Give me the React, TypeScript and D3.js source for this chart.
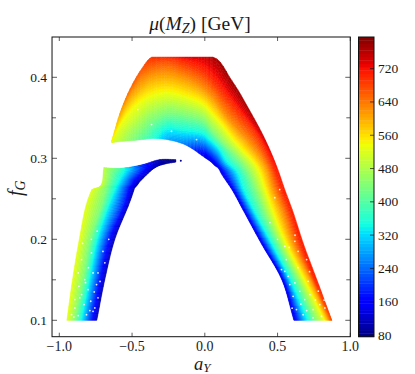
import React, { useMemo } from "react";
import * as d3 from "d3";

// each rib runs across the sheet, inner edge to outer edge
const archAY = [
  [-0.639, -0.639, -0.639, -0.639, -0.639, -0.639, -0.639],
  [-0.584, -0.584, -0.584, -0.584, -0.584, -0.584, -0.584],
  [-0.495, -0.495, -0.495, -0.495, -0.495, -0.495, -0.495],
  [-0.433, -0.433, -0.433, -0.433, -0.433, -0.433, -0.433],
  [-0.364, -0.364, -0.364, -0.364, -0.364, -0.364, -0.364],
  [-0.261, -0.261, -0.261, -0.261, -0.261, -0.261, -0.261],
  [-0.137, -0.137, -0.137, -0.137, -0.137, -0.137, -0.137],
  [0, 0, 0, 0, 0, 0, 0],
  [0.021, 0.021, 0.034, 0.055, 0.062, 0.055, 0.055],
  [0.048, 0.048, 0.082, 0.131, 0.151, 0.131, 0.186],
  [0.069, 0.096, 0.144, 0.199, 0.227, 0.241, 0.309],
  [0.089, 0.144, 0.206, 0.247, 0.309, 0.344, 0.405],
  [0.117, 0.213, 0.289, 0.364, 0.426, 0.474, 0.495],
  [0.186, 0.261, 0.351, 0.419, 0.474, 0.529, 0.55],
  [0.261, 0.33, 0.405, 0.467, 0.529, 0.584, 0.601],
  [0.392, 0.46, 0.515, 0.564, 0.612, 0.66, 0.68],
  [0.529, 0.584, 0.639, 0.687, 0.729, 0.756, 0.77],
  [0.612, 0.687, 0.756, 0.825, 0.852, 0.869, 0.873],
];
const archFG = [
  [0.3194, 0.3197, 0.32, 0.3203, 0.3206, 0.3209, 0.3212],
  [0.3206, 0.328, 0.3354, 0.3416, 0.347, 0.351, 0.3552],
  [0.3219, 0.3354, 0.349, 0.3626, 0.3756, 0.3845, 0.3922],
  [0.3231, 0.3354, 0.354, 0.3721, 0.3863, 0.3962, 0.4107],
  [0.3243, 0.3354, 0.3478, 0.3786, 0.4033, 0.4144, 0.425],
  [0.3231, 0.333, 0.3564, 0.3824, 0.4058, 0.4195, 0.425],
  [0.3169, 0.3317, 0.354, 0.3774, 0.3996, 0.4195, 0.425],
  [0.3009, 0.3268, 0.3453, 0.3663, 0.3848, 0.407, 0.425],
  [0.2984, 0.3231, 0.3379, 0.3552, 0.3738, 0.3972, 0.425],
  [0.2947, 0.3194, 0.328, 0.3392, 0.3515, 0.3811, 0.3959],
  [0.291, 0.3107, 0.3157, 0.3231, 0.3354, 0.3564, 0.3589],
  [0.2885, 0.296, 0.3046, 0.3132, 0.3194, 0.3342, 0.3268],
  [0.2799, 0.2836, 0.286, 0.2885, 0.2885, 0.2885, 0.2897],
  [0.2614, 0.2614, 0.2614, 0.2614, 0.2614, 0.2614, 0.2614],
  [0.2367, 0.2367, 0.2367, 0.2367, 0.2367, 0.2367, 0.2367],
  [0.1935, 0.1935, 0.1935, 0.1935, 0.1935, 0.1935, 0.1935],
  [0.1503, 0.1503, 0.1503, 0.1503, 0.1503, 0.1503, 0.1503],
  [0.1, 0.1, 0.1, 0.1, 0.1, 0.1, 0.1],
];
const archMu = [
  [515, 520, 525, 530, 535, 538, 540],
  [490, 505, 520, 540, 565, 585, 600],
  [440, 470, 510, 540, 590, 620, 660],
  [405, 440, 490, 540, 590, 620, 670],
  [370, 400, 440, 540, 620, 660, 695],
  [290, 330, 440, 540, 620, 670, 700],
  [250, 330, 440, 540, 620, 700, 730],
  [130, 330, 440, 540, 620, 700, 745],
  [130, 330, 440, 540, 620, 700, 765],
  [130, 330, 440, 540, 620, 700, 780],
  [130, 330, 440, 540, 620, 700, 770],
  [130, 330, 440, 540, 620, 700, 750],
  [130, 330, 440, 540, 620, 700, 720],
  [130, 330, 440, 540, 620, 700, 710],
  [130, 330, 440, 540, 620, 700, 710],
  [130, 330, 440, 540, 620, 700, 710],
  [130, 330, 440, 540, 620, 700, 710],
  [130, 300, 430, 540, 610, 660, 680],
];

const armAY = [
  [-0.742, -0.784, -0.845, -0.9, -0.948],
  [-0.687, -0.729, -0.79, -0.838, -0.909],
  [-0.619, -0.667, -0.735, -0.79, -0.863],
  [-0.509, -0.55, -0.639, -0.701, -0.804],
  [-0.481, -0.529, -0.605, -0.68, -0.777],
  [-0.467, -0.515, -0.598, -0.667, -0.722],
  [-0.447, -0.495, -0.57, -0.639, -0.694],
  [-0.412, -0.46, -0.536, -0.584, -0.612],
  [-0.33, -0.357, -0.385, -0.405, -0.426],
  [-0.261, -0.275, -0.289, -0.302, -0.309],
  [-0.199, -0.199, -0.199, -0.199, -0.199],
];
const armFG = [
  [0.1, 0.1, 0.1, 0.1, 0.1],
  [0.1503, 0.1503, 0.1503, 0.1503, 0.1503],
  [0.1996, 0.1996, 0.1996, 0.1996, 0.1996],
  [0.249, 0.249, 0.249, 0.249, 0.249],
  [0.2638, 0.2638, 0.2638, 0.2638, 0.2614],
  [0.2663, 0.2663, 0.2663, 0.2663, 0.2651],
  [0.2712, 0.2737, 0.2762, 0.2836, 0.2885],
  [0.2774, 0.2799, 0.2836, 0.286, 0.2873],
  [0.2897, 0.2897, 0.2891, 0.291, 0.2922],
  [0.2935, 0.2947, 0.2959, 0.2972, 0.2984],
  [0.2953, 0.2959, 0.2965, 0.2972, 0.2984],
];
const armMu = [
  [100, 190, 330, 450, 530],
  [100, 190, 330, 440, 530],
  [100, 190, 330, 440, 530],
  [100, 190, 330, 440, 525],
  [100, 190, 330, 440, 525],
  [100, 190, 330, 430, 510],
  [100, 190, 330, 430, 490],
  [100, 190, 320, 390, 430],
  [100, 130, 160, 175, 190],
  [90, 92, 95, 98, 100],
  [85, 85, 85, 85, 85],
];
// arm is cut at the notch in its outer edge, which stays sharp
const armPieces = [[0, 4], [4, 6], [6, 11]];

// the lone point right of the arm's tip
const strayAY = -0.165;
const strayFG = 0.297;
const strayMu = 90;

// white holes in the scatter
const gapAY = [
  -0.802, -0.847, -0.893, -0.756, -0.916, -0.83, -0.784, -0.734, -0.859, -0.768, -0.87, -0.813, -0.893, -0.744,
  -0.825, -0.768, -0.87, -0.734, -0.847, -0.779, -0.687, 0.527, 0.55, 0.584, 0.619, 0.653, 0.687, 0.722, 0.744,
  0.79, 0.641, 0.63, 0.676, 0.744, 0.573, 0.71, 0.802, 0.607, 0.825, 0.55, -0.366, -0.229, -0.057, -0.46, 0.515,
  0.481, 0.619, 0.447, -0.9, -0.79, -0.82, -0.865, -0.76, -0.8, -0.72, -0.78, -0.84, -0.74, -0.66, -0.7, 0.66,
  0.7, 0.6, 0.76, 0.78, 0.64, 0.72, 0.82, 0.7, 0.56, 0.62, 0.5, 0.58,
];
const gapFG = [
  0.1379, 0.1317, 0.1153, 0.1153, 0.107, 0.1194, 0.1235, 0.1277, 0.1277, 0.1111, 0.1058, 0.107, 0.1256, 0.1441,
  0.1503, 0.1585, 0.1585, 0.1585, 0.1749, 0.1832, 0.1709, 0.1626, 0.1605, 0.1441, 0.1462, 0.1358, 0.1256, 0.1317,
  0.1132, 0.1194, 0.1852, 0.1132, 0.107, 0.103, 0.1543, 0.1481, 0.105, 0.1296, 0.1153, 0.1914, 0.3416, 0.3334,
  0.3231, 0.3601, 0.2614, 0.2514, 0.1975, 0.2206, 0.104, 0.112, 0.1465, 0.142, 0.135, 0.165, 0.148, 0.2, 0.195,
  0.21, 0.2, 0.185, 0.12, 0.112, 0.115, 0.125, 0.136, 0.165, 0.16, 0.125, 0.175, 0.175, 0.205, 0.2, 0.19,
];

const xTicks = [-1, -0.5, 0, 0.5, 1];
const yTicks = [0.1, 0.2, 0.3, 0.4];
const yMinorTicks = [0.15, 0.25, 0.35];
const barTicks = [80, 160, 240, 320, 400, 480, 560, 640, 720];
const muRange = [76, 796];
const barLevels = 90;

const serif = "'Liberation Serif', 'DejaVu Serif', serif";
const ink = "#1a1a1a";

const jetR = d3.scaleLinear().domain([0, 0.35, 0.66, 0.89, 1]).range([0, 0, 1, 1, 0.5]);
const jetG = d3.scaleLinear().domain([0, 0.125, 0.375, 0.64, 0.91, 1]).range([0, 0, 1, 1, 0, 0]);
const jetB = d3.scaleLinear().domain([0, 0.11, 0.34, 0.65, 1]).range([0.5, 1, 1, 0, 0]);
const jet = (t: number) => d3.rgb(jetR(t) * 255, jetG(t) * 255, jetB(t) * 255).formatHex();

// hermite slope at knot i of an unevenly spaced run
const slope = (v: number[], s: number[], i: number) => {
  if (i === 0) return (v[1] - v[0]) / (s[1] - s[0]);
  const n = v.length - 1;
  if (i === n) return (v[n] - v[n - 1]) / (s[n] - s[n - 1]);
  const h0 = s[i] - s[i - 1];
  const h1 = s[i + 1] - s[i];
  return (((v[i] - v[i - 1]) / h0) * h1 + ((v[i + 1] - v[i]) / h1) * h0) / (h0 + h1);
};
const hermite = (v: number[], s: number[], i: number, t: number) => {
  const h = s[i + 1] - s[i];
  const t2 = t * t;
  const t3 = t2 * t;
  return (
    (2 * t3 - 3 * t2 + 1) * v[i] +
    (t3 - 2 * t2 + t) * h * slope(v, s, i) +
    (-2 * t3 + 3 * t2) * v[i + 1] +
    (t3 - t2) * h * slope(v, s, i + 1)
  );
};

export default function App() {
  const x = d3.scaleLinear().domain([-1, 1]).range([59.3, 350.3]);
  const y = d3.scaleLinear().domain([0.1, 0.4]).range([320.3, 77.3]);
  const left = x(-1.05);
  const right = x(1);
  const top = 37;
  const bottom = 336.7;
  const barX = 358.5;
  const barW = 15.5;
  const barY = d3.scaleLinear().domain(muRange).range([bottom, top]);
  const muT = d3.scaleLinear().domain(muRange).range([0, 1]).clamp(true);

  // paint the sheets: shape and colour run smoothly between the read stops, as a mesh gradient would
  const cells = useMemo(() => {
    const out: { d: string; fill: string }[] = [];
    const line = d3.line();
    const sheet = (ay: number[][], fg: number[][], mu: number[][]) => {
      const nStops = ay[0].length;
      const runs = d3.range(nStops).map(j => {
        const px = ay.map(r => x(r[j]));
        const py = fg.map(r => y(r[j]));
        const ms = mu.map(r => r[j]);
        const s = [0];
        for (let i = 1; i < px.length; i++) {
          s.push(s[i - 1] + Math.hypot(px[i] - px[i - 1], py[i] - py[i - 1]) + 1);
        }
        return { px, py, ms, s };
      });
      const at = (i: number, t: number, j: number) => {
        const r = runs[j];
        return [
          hermite(r.px, r.s, i, t),
          Math.min(y(0.1), Math.max(y(0.425), hermite(r.py, r.s, i, t))),
          hermite(r.ms, r.s, i, t),
        ];
      };
      for (let i = 0; i < ay.length - 1; i++) {
        for (let j = 0; j < nStops - 1; j++) {
          const dm = Math.max(Math.abs(mu[i][j + 1] - mu[i][j]), Math.abs(mu[i + 1][j + 1] - mu[i + 1][j]));
          const nv = Math.max(1, Math.ceil(dm / 12));
          const nu = 6;
          const pt = (u: number, v: number): [number, number] => {
            const a = at(i, u, j);
            const b = at(i, u, j + 1);
            return [a[0] + (b[0] - a[0]) * v, a[1] + (b[1] - a[1]) * v];
          };
          d3.range(nu).forEach(p => {
            d3.range(nv).forEach(q => {
              const u0 = p / nu, u1 = (p + 1) / nu, v0 = q / nv, v1 = (q + 1) / nv;
              const a = at(i, (u0 + u1) / 2, j)[2];
              const b = at(i, (u0 + u1) / 2, j + 1)[2];
              const m = a + (b - a) * ((v0 + v1) / 2);
              out.push({
                d: line([pt(u0, v0), pt(u1, v0), pt(u1, v1), pt(u0, v1)]) + "Z",
                fill: jet(muT(m)),
              });
            });
          });
        }
      }
    };
    armPieces.forEach(([a, b]) => sheet(armAY.slice(a, b + 1), armFG.slice(a, b + 1), armMu.slice(a, b + 1)));
    sheet(archAY, archFG, archMu);
    return out;
  }, []);

  const levels = d3.range(barLevels);
  const levelH = (bottom - top) / barLevels;

  return (
    <svg
      width={415}
      height={374}
      style={{ position: "absolute", left: 0, top: 0, display: "block", background: "#fff" }}
      fontFamily={serif}
    >
      <g>
        {cells.map((c, i) => (
          <path key={i} d={c.d} fill={c.fill} stroke={c.fill} strokeWidth={0.5} />
        ))}
      </g>
      <circle cx={x(strayAY)} cy={y(strayFG)} r={1} fill={jet(muT(strayMu))} />
      <g fill="#fff" opacity={0.9}>
        {gapAY.map((a, i) => (
          <circle key={i} cx={x(a)} cy={y(gapFG[i])} r={0.9} />
        ))}
      </g>

      <rect x={left} y={top} width={right - left} height={bottom - top} fill="none" stroke="#111" strokeWidth={1} />
      {xTicks.map(t => (
        <g key={t} stroke={ink} strokeWidth={0.7}>
          <line x1={x(t)} x2={x(t)} y1={bottom} y2={bottom - 4} />
          <line x1={x(t)} x2={x(t)} y1={top} y2={top + 4} />
        </g>
      ))}
      {yTicks.map(t => (
        <g key={t} stroke={ink} strokeWidth={0.7}>
          <line x1={left} x2={left + 5} y1={y(t)} y2={y(t)} />
          <line x1={right} x2={right - 5} y1={y(t)} y2={y(t)} />
        </g>
      ))}
      {yMinorTicks.map(t => (
        <g key={t} stroke={ink} strokeWidth={0.7}>
          <line x1={left} x2={left + 4} y1={y(t)} y2={y(t)} />
          <line x1={right} x2={right - 4} y1={y(t)} y2={y(t)} />
        </g>
      ))}
      <g fontSize={14} fill={ink} textAnchor="middle">
        {xTicks.map(t => (
          <text key={t} x={x(t)} y={351}>
            {d3.format(".1f")(t).replace("-", "\u2212")}
          </text>
        ))}
      </g>
      <g fontSize={13.5} fill={ink} textAnchor="end">
        {yTicks.map(t => (
          <text key={t} x={47} y={y(t) + 4.5}>
            {d3.format(".1f")(t)}
          </text>
        ))}
      </g>

      {levels.map(i => (
        <rect
          key={i}
          x={barX}
          y={bottom - (i + 1) * levelH}
          width={barW}
          height={levelH + 0.4}
          fill={jet((i + 0.5) / barLevels)}
        />
      ))}
      <rect x={barX} y={top} width={barW} height={bottom - top} fill="none" stroke="#111" strokeWidth={1} />
      {barTicks.map(t => (
        <g key={t}>
          <line x1={barX + barW} x2={barX + barW - 4} y1={barY(t)} y2={barY(t)} stroke="#111" strokeWidth={0.7} />
          <text x={378} y={barY(t) + 4.5} fontSize={13.5} fill={ink}>
            {t}
          </text>
        </g>
      ))}

      <text x={200} y={30} fontSize={19.5} fill={ink} textAnchor="middle">
        <tspan fontStyle="italic">μ</tspan>(<tspan fontStyle="italic">M</tspan>
        <tspan fontStyle="italic" fontSize={14} dy={3}>Z</tspan>
        <tspan dy={-3}>) [GeV]</tspan>
      </text>
      <text x={194} y={369.5} fontSize={18.5} fill={ink} fontStyle="italic">
        a<tspan fontSize={13} dy={2.5}>Y</tspan>
      </text>
      <text transform="translate(22,196) rotate(-90)" fontSize={20} fill={ink} fontStyle="italic">
        f<tspan fontSize={14} dy={3}>G</tspan>
      </text>
    </svg>
  );
}
